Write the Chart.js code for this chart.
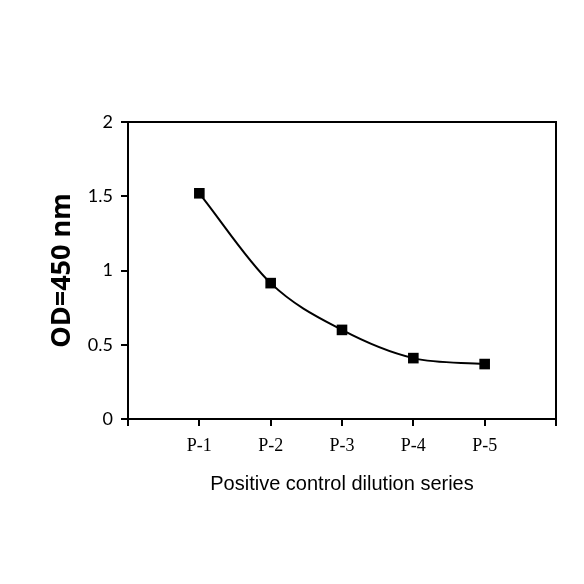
<!DOCTYPE html>
<html lang="en">
  <head>
    <meta charset="UTF-8" />
    <title>OD450 dilution series</title>
    <script src="https://cdn.jsdelivr.net/npm/chart.js"></script>
    <style>
      html, body { margin: 0; padding: 0; background: #fff; }
      #wrap { width: 584px; height: 584px; }
    </style>
  </head>
  <body>
    <div id="wrap"><canvas id="odChart" width="584" height="584"></canvas></div>

    <script>
      // data
      const categories = ["P-1", "P-2", "P-3", "P-4", "P-5"];
      const odValues = [1.52, 0.915, 0.6, 0.41, 0.37];
      const yTicks = [0, 0.5, 1, 1.5, 2];

      // box around the plot area (top + right edges)
      const frame = {
        id: "frame",
        afterDraw(chart) {
          const a = chart.chartArea;
          const c = chart.ctx;
          c.save();
          c.strokeStyle = "#000";
          c.lineWidth = 2;
          c.beginPath();
          c.moveTo(a.left, a.top);
          c.lineTo(a.right, a.top);
          c.lineTo(a.right, a.bottom);
          c.stroke();
          c.restore();
        },
      };

      const ctx = document.getElementById("odChart").getContext("2d");
      new Chart(ctx, {
        type: "line",
        data: {
          datasets: [
            {
              data: odValues.map((v, i) => ({ x: i + 1, y: v })),
              borderColor: "#000",
              borderWidth: 2,
              cubicInterpolationMode: "monotone",
              pointStyle: "rect",
              pointRadius: 7.5,
              pointBackgroundColor: "#000",
              pointBorderColor: "#000",
              pointBorderWidth: 0,
            },
          ],
        },
        options: {
          responsive: false,
          animation: false,
          layout: { padding: { top: 122, right: 28, left: 42, bottom: 84 } },
          plugins: { legend: { display: false }, tooltip: { enabled: false } },
          scales: {
            x: {
              type: "linear",
              min: 0,
              max: categories.length + 1,
              afterFit: (s) => { s.height = 81; },
              afterBuildTicks: (s) => {
                s.ticks = [];
                for (let i = 0; i <= categories.length + 1; i++) s.ticks.push({ value: i });
              },
              ticks: {
                autoSkip: false,
                maxRotation: 0,
                color: "#000",
                padding: 9,
                font: { family: "Liberation Serif", size: 18 },
                callback: (v) => categories[v - 1] || "",
              },
              grid: { drawOnChartArea: false, tickLength: 7, color: "#000", lineWidth: 2 },
              border: { color: "#000", width: 2 },
              title: {
                display: true,
                text: "Positive control dilution series",
                color: "#000",
                font: { family: "Liberation Sans", size: 20 },
              },
            },
            y: {
              min: 0,
              max: 2,
              afterFit: (s) => { s.width = 86; },
              afterBuildTicks: (s) => { s.ticks = yTicks.map((v) => ({ value: v })); },
              ticks: {
                color: "#000",
                padding: 8,
                font: { family: "Lato", size: 18 },
                callback: (v) => String(v),
              },
              grid: { drawOnChartArea: false, tickLength: 7, color: "#000", lineWidth: 2 },
              border: { color: "#000", width: 2 },
              title: {
                display: true,
                text: "OD=450 nm",
                color: "#000",
                font: { family: "Open Sans", size: 27, weight: "bold" },
              },
            },
          },
        },
        plugins: [frame],
      });
    </script>
  </body>
</html>
